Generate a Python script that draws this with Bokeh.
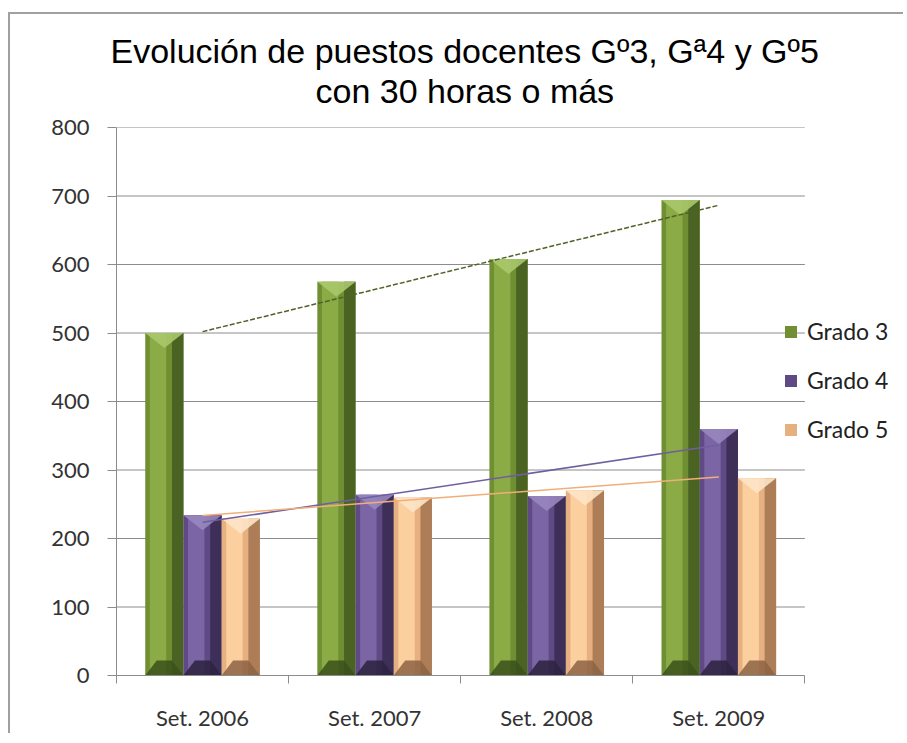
import numpy as np
from bokeh.plotting import figure
from bokeh.models import FixedTicker, Legend, LegendItem, Title, ColumnDataSource
from bokeh.embed import file_html
from bokeh.resources import INLINE

# ---- data ----
categories = ["Set. 2006", "Set. 2007", "Set. 2008", "Set. 2009"]
series_names = ["Grado 3", "Grado 4", "Grado 5"]
grado3 = [500, 575, 608, 694]
grado4 = [234, 264, 262, 360]
grado5 = [229, 260, 270, 288]
y_ticks = [0, 100, 200, 300, 400, 500, 600, 700, 800]

title_line1 = "Evolución de puestos docentes Gº3, Gª4 y Gº5"
title_line2 = "con 30 horas o más"

# ---- styles ----
palettes = [
    dict(light="#8aab45", mid="#6f8f32", dark="#4a6322", top="#a9c86a", bottom="#3b501b", trend="#4f6228"),
    dict(light="#7b65a4", mid="#5f4a85", dark="#3d2f57", top="#9886be", bottom="#2d2240", trend="#6f5fa0"),
    dict(light="#fccf9e", mid="#e6b080", dark="#ac7d56", top="#fde4c6", bottom="#8c6343", trend="#f2ae7a"),
]
all_series = [grado3, grado4, grado5]

W = 0.222          # bar width (category units)
D = 22             # bevel depth (value units)
n_cat = len(categories)

p = figure(width=895, height=721, x_range=(0, 4.55), y_range=(0, 800),
           output_backend="svg", toolbar_location=None,
           min_border_left=106, min_border_right=6,
           min_border_top=113, min_border_bottom=60)
p.styles = {"border-top": "2px solid #a0a0a0", "border-left": "2px solid #a0a0a0",
            "margin-top": "12px", "margin-left": "8px"}
p.outline_line_color = None
p.background_fill_color = "white"
p.border_fill_color = "white"

# titles
p.title.text = title_line1
p.title.align = "left"
p.title.text_font = "Liberation Sans"
p.title.text_font_size = "34px"
p.title.text_font_style = "normal"
p.title.text_color = "#000000"
p.title.offset = -6
p.title.standoff = 0
spacer = Title(text=" ", align="left", text_font="Liberation Sans",
               text_font_size="14px", standoff=0)
p.add_layout(spacer, "above")
t2 = Title(text=title_line2, align="left", text_font="Liberation Sans",
           text_font_size="34px", text_font_style="normal", text_color="#000000",
           offset=199, standoff=0)
p.add_layout(t2, "above")

# grid (drawn as segments so they stop at the last category)
p.xgrid.visible = False
p.ygrid.visible = False
p.segment(x0=[0] * len(y_ticks), x1=[n_cat] * len(y_ticks), y0=y_ticks, y1=y_ticks,
          line_color="#8c8c8c", line_width=1)

p.yaxis.ticker = FixedTicker(ticks=y_ticks)
p.yaxis.axis_line_color = "#8c8c8c"
p.yaxis.major_tick_line_color = "#8c8c8c"
p.yaxis.major_tick_out = 9
p.yaxis.major_tick_in = 0
p.yaxis.minor_tick_line_color = None
p.yaxis.major_label_text_font = "Lato"
p.yaxis.major_label_text_font_size = "22px"
p.yaxis.major_label_text_color = "#333333"
p.yaxis.major_label_standoff = 18

centers = [i + 0.5 for i in range(n_cat)]
bounds = [float(i) for i in range(n_cat + 1)]
p.xaxis.ticker = FixedTicker(ticks=centers, minor_ticks=bounds)
p.xaxis.bounds = (0, n_cat)
p.xaxis.major_label_overrides = {c: lab for c, lab in zip(centers, categories)}
p.xaxis.axis_line_color = "#8c8c8c"
p.xaxis.major_tick_line_color = None
p.xaxis.major_tick_out = 0
p.xaxis.major_tick_in = 0
p.xaxis.minor_tick_line_color = "#8c8c8c"
p.xaxis.minor_tick_out = 8
p.xaxis.minor_tick_in = 0
p.xaxis.major_label_text_font = "Lato"
p.xaxis.major_label_text_font_size = "22px"
p.xaxis.major_label_text_color = "#333333"
p.xaxis.major_label_standoff = 20

legend_items = []
for si, (name, vals, pal) in enumerate(zip(series_names, all_series, palettes)):
    off = (si - 1) * W
    x = np.array(centers) + off
    v = np.array(vals, dtype=float)
    src = ColumnDataSource(dict(
        l=x - W / 2, r=x + W / 2, top=v, bot=np.zeros_like(v),
        l2=x - W / 2 + 0.12 * W, r2=x + 0.05 * W,
        l4=x + 0.2 * W, r4=x + W / 2,
    ))
    r_main = p.quad(left="l", right="r", top="top", bottom="bot", source=src,
                    fill_color=pal["mid"], line_color=None)
    p.quad(left="l2", right="r2", top="top", bottom="bot", source=src,
           fill_color=pal["light"], line_color=None)
    p.quad(left="l4", right="r4", top="top", bottom="bot", source=src,
           fill_color=pal["dark"], line_color=None)
    # top bevel (light V) and bottom bevel (dark)
    top_xs = [[a, b, c] for a, b, c in zip(x - W / 2, x + W / 2, x)]
    top_ys = [[t, t, t - D] for t in v]
    p.patches(top_xs, top_ys, fill_color=pal["top"], line_color=None, fill_alpha=0.9)
    bot_xs = [[a, b, b - 0.3 * W, a + 0.3 * W] for a, b in zip(x - W / 2, x + W / 2)]
    bot_ys = [[0, 0, D, D] for _ in v]
    p.patches(bot_xs, bot_ys, fill_color=pal["bottom"], line_color=None, fill_alpha=0.85)
    legend_items.append(LegendItem(label=name, renderers=[r_main]))

# linear trend lines (computed from the series)
for vals, pal in zip(all_series, palettes):
    k = np.arange(len(vals), dtype=float)
    m, b = np.polyfit(k, np.array(vals, dtype=float), 1)
    xs_t = [centers[0], centers[-1]]
    ys_t = [b + m * k[0], b + m * k[-1]]
    dash = "5 2" if pal is palettes[0] else "solid"
    p.line(xs_t, ys_t, line_color=pal["trend"], line_width=1.5, line_dash=dash)

legend = Legend(items=legend_items, location=(667, 232), orientation="vertical",
                glyph_width=15, glyph_height=15, label_standoff=9, spacing=21,
                padding=0, margin=0, border_line_alpha=0, background_fill_alpha=0,
                label_text_font="Lato", label_text_font_size="23px",
                label_text_color="#222222", label_height=20)
p.add_layout(legend)

open("out.html", "w").write(file_html(p, INLINE))
